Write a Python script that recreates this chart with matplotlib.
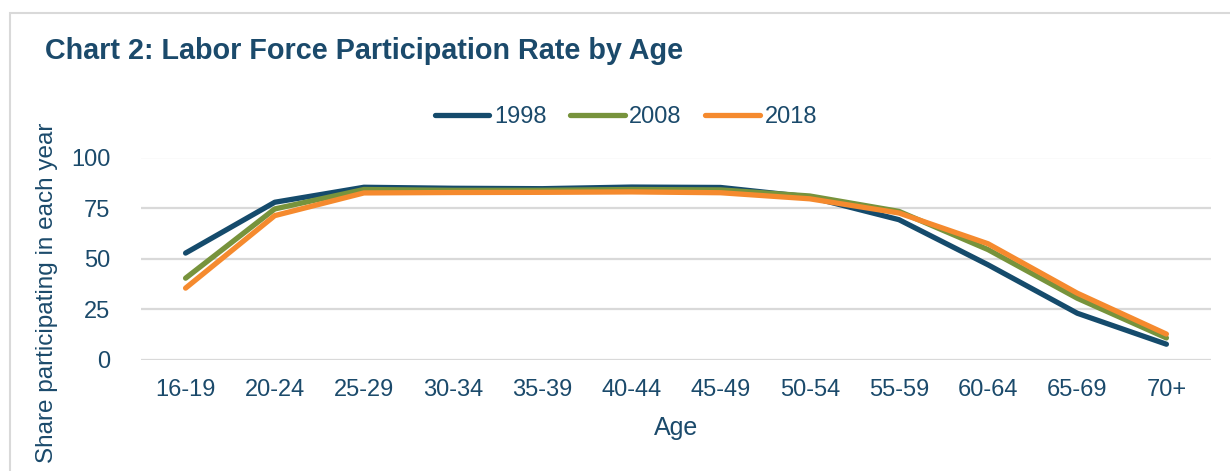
import numpy as np
import matplotlib.pyplot as plt
from matplotlib.patches import Rectangle

# data
ages = ['16-19', '20-24', '25-29', '30-34', '35-39', '40-44',
        '45-49', '50-54', '55-59', '60-64', '65-69', '70+']
rate_1998 = [52.8, 77.9, 85.3, 84.8, 84.6, 85.4, 85.2, 80.5, 69.3, 47.0, 23.1, 7.8]
rate_2008 = [40.4, 74.6, 84.2, 83.8, 83.8, 84.2, 84.0, 81.0, 73.4, 54.5, 30.5, 10.9]
rate_2018 = [35.5, 71.3, 82.5, 82.7, 82.8, 83.0, 82.6, 79.6, 72.6, 57.4, 33.0, 12.8]
years = ['1998', '2008', '2018']

txt = '#1B4A6B'
colors = ['#154B6C', '#77933C', '#F58A2E']

plt.rcParams['font.family'] = ['Liberation Sans', 'DejaVu Sans']

fig = plt.figure(figsize=(12.3, 4.71), dpi=100)
ax = fig.add_axes([141/1230, 1 - 360/471, 1070/1230, (360 - 157.5)/471])

x = np.arange(len(ages))
for vals, c, lab in zip([rate_1998, rate_2008, rate_2018], colors, years):
    ax.plot(x, vals, color=c, lw=3.8, solid_capstyle='round',
            solid_joinstyle='round', label=lab)

ax.set_xlim(-0.5, len(ages) - 0.5)
ax.set_ylim(0, 100)
ax.set_yticks([0, 25, 50, 75, 100])
ax.set_xticks(x)
ax.set_xticklabels(ages)
ax.grid(axis='y', color='#D9D9D9', lw=1.6)
ax.set_axisbelow(True)
for s in ax.spines.values():
    s.set_visible(False)
ax.tick_params(length=0, labelsize=17, labelcolor=txt)
ax.tick_params(axis='y', pad=22)
ax.tick_params(axis='x', pad=14)

fig.text(676/1230, 1 - 428/471, 'Age', ha='center', va='center',
         fontsize=18, color=txt)
fig.text(47/1230, 1 - 293/471, 'Share participating in each year',
         rotation=90, ha='center', va='center', fontsize=17.5, color=txt)
fig.text(45/1230, 1 - 51/471, 'Chart 2: Labor Force Participation Rate by Age',
         ha='left', va='center', fontsize=20.7, fontweight='bold', color=txt)

leg = fig.legend(loc='center', bbox_to_anchor=(626/1230, 1 - 117/471), ncol=3,
                 frameon=False, fontsize=17, handlelength=2.3,
                 handletextpad=0.2, columnspacing=1.0)
for t in leg.get_texts():
    t.set_color(txt)

# light frame around the chart area
fig.patches.append(Rectangle((10/1230, -0.1), 1.2, 1 - 13/471 + 0.1,
                             transform=fig.transFigure, fill=False,
                             edgecolor='#D9D9D9', lw=1.5))

fig.savefig('out.png', dpi=100, facecolor='white')
